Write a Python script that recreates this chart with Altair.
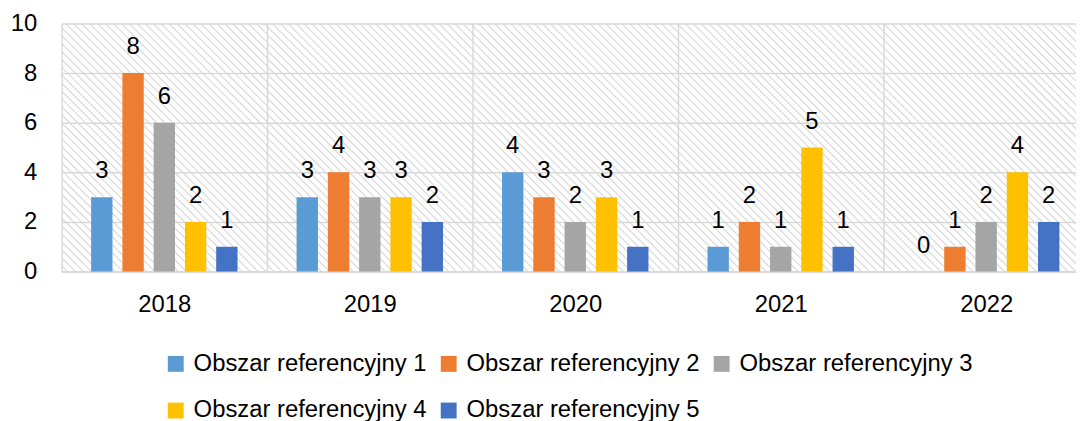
import altair as alt
import pandas as pd

years = ["2018", "2019", "2020", "2021", "2022"]
series = ["Obszar referencyjny 1", "Obszar referencyjny 2", "Obszar referencyjny 3",
          "Obszar referencyjny 4", "Obszar referencyjny 5"]
s1 = [3, 3, 4, 1, 0]
s2 = [8, 4, 3, 2, 1]
s3 = [6, 3, 2, 1, 2]
s4 = [2, 3, 3, 5, 4]
s5 = [1, 2, 1, 1, 2]
colors = ["#5B9BD5", "#ED7D31", "#A5A5A5", "#FFC000", "#4472C4"]

rows = []
for name, vals in zip(series, [s1, s2, s3, s4, s5]):
    for y, v in zip(years, vals):
        rows.append({"rok": y, "seria": name, "wartosc": v})
df = pd.DataFrame(rows)

FONT = "Liberation Sans"
FS = 24
W, H = 1022, 250
GRID = "#d9d9d9"

# hatched plot background
hatch = alt.Chart(alt.sequence(-260, 1040, 8, as_="t")).transform_calculate(
    t2="datum.t + 250"
).mark_rule(color=GRID, strokeWidth=1.2, clip=True).encode(
    x=alt.X("t:Q", scale=alt.Scale(domain=[0, W], nice=False, zero=False), axis=None),
    x2="t2:Q",
    y=alt.value(0),
    y2=alt.value(H),
)

xenc = alt.X("rok:N", title=None,
             scale=alt.Scale(range=[0, 1035], paddingInner=0, paddingOuter=0),
             axis=alt.Axis(labelAngle=0, labelFontSize=FS, labelPadding=21, ticks=False,
                           domainColor=GRID, domainWidth=2, grid=True, tickBand="extent",
                           gridColor=GRID, gridWidth=1.5, labelColor="#000"))
xoff = alt.XOffset("seria:N", scale=alt.Scale(paddingInner=0.317, paddingOuter=0.944))
yenc = alt.Y("wartosc:Q", title=None,
             scale=alt.Scale(domain=[0, 10], nice=False),
             axis=alt.Axis(values=[0, 2, 4, 6, 8, 10], labelFontSize=FS, labelPadding=25,
                           ticks=False, domain=False, gridColor=GRID, gridWidth=1.5,
                           labelColor="#000"))

base = alt.Chart(df).encode(x=xenc, xOffset=xoff, y=yenc)

bars = base.mark_bar().encode(
    color=alt.Color("seria:N", scale=alt.Scale(domain=series, range=colors),
                    legend=alt.Legend(orient="none", legendX=103, legendY=331, columns=3,
                                      direction="horizontal", title=None, symbolType="square",
                                      symbolSize=256, labelFontSize=FS, labelLimit=400,
                                      rowPadding=23, columnPadding=10, labelOffset=6,
                                      symbolStrokeWidth=0, labelColor="#000"))
)
labels = base.mark_text(baseline="alphabetic", dy=-19, fontSize=FS, color="#000").encode(
    text="wartosc:Q"
)

chart = alt.layer(hatch, alt.layer(bars, labels)).resolve_scale(
    x="independent", y="independent"
).properties(
    width=W, height=H,
    autosize=alt.AutoSizeParams(type="none"),
    padding={"left": 54, "top": 14, "right": 0, "bottom": 149},
).configure(font=FONT).configure_view(stroke=None)

chart.save("out.html", embed_options={"renderer": "svg", "actions": False})
